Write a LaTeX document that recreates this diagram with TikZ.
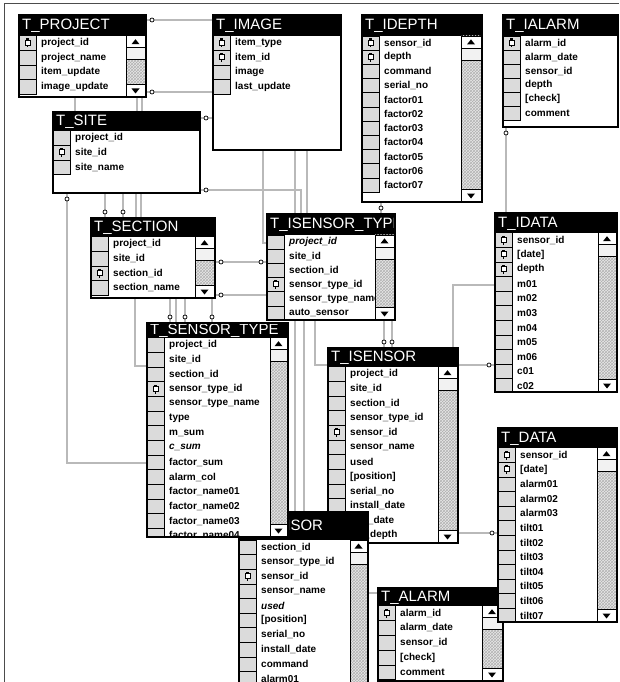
\documentclass[tikz,border=0pt]{standalone}
\usepackage{fontspec}
\setmainfont{Liberation Sans}
\usetikzlibrary{patterns,backgrounds,decorations.markings}
\tikzset{
 tabbox/.style={rectangle, draw=black, line width=2pt, fill=white, inner sep=0pt, outer sep=0pt},
 titletext/.style={text=white, font=\fontsize{15}{16}\selectfont, inner sep=0pt},
 rowtext/.style={font=\fontsize{10}{12}\selectfont\bfseries, inner sep=0pt},
 keycell/.style={draw=black, line width=0.5pt, fill=gray!28},
 conn/.style={draw=black, line width=0.6pt, double=gray!55, double distance=1.2pt},
 os/.style={postaction={decorate, decoration={markings, mark=at position 6pt with {\draw[fill=white, line width=0.7pt, draw=black] (0,0) circle[radius=2pt];}}}},
 oe/.style={postaction={decorate, decoration={markings, mark=at position -6pt with {\draw[fill=white, line width=0.7pt, draw=black] (0,0) circle[radius=2pt];}}}},
}
% #1 name #2 x1 #3 y1 #4 x2 #5 y2 #6 title bottom #7 title #8 scroll x (or empty) #9 rows
\newcommand\dbtable[9]{%
 \node[tabbox, minimum width={(#4-#2)*1pt}, minimum height={(#5-#3)*1pt}, anchor=north west] (#1) at (#2,#3) {};
 \fill[black] (#2,#3) rectangle (#4,#6);
 \begin{scope}
  \clip (#2,#3) rectangle (#4-1,#6);
  \node[titletext, anchor=west] (#1-t) at (#2+3,{(#3+#6)/2+0.5}) {#7};
 \end{scope}
 \begin{scope}
  \clip (#2,#6) rectangle (#4,#5);
  \foreach \kk/\rowtxt [count=\ii] in {#9} {
   \pgfmathsetmacro\ya{#6+(\ii-1)*\pitch}
   \pgfmathsetmacro\yb{\ya+\pitch}
   \pgfmathsetmacro\yc{\ya+\pitch/2}
   \draw[keycell] (#2,\ya) rectangle (#2+17,\yb);
   \node[rowtext, anchor=west] (#1-r\ii) at (#2+22,\yc) {\rowtxt};
   \if k\kk
    \draw[line width=0.8pt, fill=white] (#2+6,\yc-3) rectangle (#2+11,\yc+2);
    \fill (#2+7.6,\yc+2) rectangle (#2+9.4,\yc+4.5);
    \fill (#2+7,\yc-4.5) rectangle (#2+10,\yc-3);
   \fi
  }
 \end{scope}
 \def\sx{#8}\ifx\sx\empty\else
  \fill[gray!18] (#8,#6) rectangle (#4-1,#5-1);
  \fill[pattern=crosshatch, pattern color=gray!60] (#8,#6) rectangle (#4-1,#5-1);
  \draw[line width=0.5pt] (#8,#6) -- (#8,#5);
  \draw[line width=0.5pt, fill=white] (#8,#6) rectangle (#4-1,#6+12);
  \fill ({(#8+#4-1)/2},#6+3.5) -- ++(-4,5) -- ++(8,0) -- cycle;
  \draw[line width=0.5pt, fill=gray!10] (#8,#6+12) rectangle (#4-1,#6+24);
  \draw[line width=0.5pt, fill=white] (#8,#5-13) rectangle (#4-1,#5-1);
  \fill ({(#8+#4-1)/2},#5-3.5) -- ++(-4,-5) -- ++(8,0) -- cycle;
 \fi
 \draw[line width=2pt] (#2,#3) rectangle (#4,#5);
}
\begin{document}
\begin{tikzpicture}[x=1pt,y=-1pt]
\useasboundingbox (0,0) rectangle (619,682);
\clip (0,0) rectangle (619,682);
\draw[black!70, line width=0.8pt] (4,682) -- (4,3) -- (619,3);

\def\pitch{14.6}
\dbtable{tproject}{19}{15}{146}{97}{35.7}{T\_PROJECT}{126}{k/project\_id,n/project\_name,n/item\_update,n/image\_update}
\dbtable{timage}{213}{15}{341}{150}{35.7}{T\_IMAGE}{}{k/item\_type,k/item\_id,n/image,n/last\_update}
\dbtable{tsite}{53}{112}{200}{193}{130.7}{T\_SITE}{}{n/project\_id,k/site\_id,n/site\_name}
\def\pitch{14.2}
\dbtable{tidepth}{362}{15}{482}{202}{35.9}{T\_IDEPTH}{461}{k/sensor\_id,k/depth,n/command,n/serial\_no,n/factor01,n/factor02,n/factor03,n/factor04,n/factor05,n/factor06,n/factor07}
\def\pitch{14}
\dbtable{tialarm}{503}{15}{618}{127}{36}{T\_IALARM}{}{k/alarm\_id,n/alarm\_date,n/sensor\_id,n/depth,n/{[check]},n/comment}
\def\pitch{14.6}
\dbtable{tsection}{91}{218}{215}{298}{236.7}{T\_SECTION}{195}{n/project\_id,n/site\_id,k/section\_id,n/section\_name}
\def\pitch{14.2}
\dbtable{tisensortype}{267}{214}{395}{320}{234.9}{T\_ISENSOR\_TYPE}{375}{n/\textit{project\_id},n/site\_id,n/section\_id,k/sensor\_type\_id,n/sensor\_type\_name,n/auto\_sensor}
\def\pitch{14.64}
\dbtable{tisensor}{328}{348}{458}{543}{366.7}{T\_ISENSOR}{438}{n/project\_id,n/site\_id,n/section\_id,n/sensor\_type\_id,k/sensor\_id,n/sensor\_name,n/used,n/{[position]},n/serial\_no,n/install\_date,n/obs\_date,n/set\_depth}
\def\pitch{14.6}
\dbtable{tsensor}{239}{512}{368}{700}{540}{T\_SENSOR}{350}{n/section\_id,n/sensor\_type\_id,k/sensor\_id,n/sensor\_name,n/\textit{used},n/{[position]},n/serial\_no,n/install\_date,n/command,n/alarm01}
\def\pitch{14.67}
\dbtable{tsensortype}{147}{323}{288}{537}{337.7}{T\_SENSOR\_TYPE}{270}{n/project\_id,n/site\_id,n/section\_id,k/sensor\_type\_id,n/sensor\_type\_name,n/type,n/m\_sum,n/\textit{c\_sum},n/factor\_sum,n/alarm\_col,n/factor\_name01,n/factor\_name02,n/factor\_name03,n/factor\_name04}
\def\pitch{14.6}
\dbtable{tidata}{495}{213}{617}{392}{232.7}{T\_IDATA}{598}{k/sensor\_id,k/{[date]},k/depth,n/m01,n/m02,n/m03,n/m04,n/m05,n/m06,n/c01,n/c02}
\def\pitch{14.8}
\dbtable{talarm}{378}{588}{503}{681}{605.7}{T\_ALARM}{482}{k/alarm\_id,n/alarm\_date,n/sensor\_id,n/{[check]},n/comment}
\def\pitch{14.6}
\dbtable{tdata}{498}{428}{617}{622}{447.7}{T\_DATA}{597}{k/sensor\_id,k/{[date]},n/alarm01,n/alarm02,n/alarm03,n/tilt01,n/tilt02,n/tilt03,n/tilt04,n/tilt05,n/tilt06,n/tilt07}

\begin{scope}[on background layer]
\draw[conn, os] (tproject.east |- 0,20) -- (timage.west |- 0,20);
\draw[conn, os] (tproject.east |- 0,92) -- (timage.west |- 0,92);
\draw[conn, os] (tsite.east |- 0,118) -- (timage.west |- 0,118);
\draw[conn, os] (tsite.east |- 0,190) -| (tisensortype.north -| 301,0);
\draw[conn] (tproject.south -| 75,0) -- (tsite.north -| 75,0);
\draw[conn] (tproject.south -| 137,0) -- (tsite.north -| 137,0);
\draw[conn] (tproject.south -| 142,0) -- (tsite.north -| 142,0);
\draw[conn] (timage.south -| 263,0) |- (tisensortype.west |- 0,243);
\draw[conn] (timage.south -| 295,0) -- (tisensortype.north -| 295,0);
\draw[conn] (timage.south -| 307,0) -- (tisensortype.north -| 307,0);
\draw[conn, os] (tsite.south -| 67,0) |- (tsensortype.west |- 0,463);
\draw[conn, oe] (tsite.south -| 105,0) -- (tsection.north -| 105,0);
\draw[conn, oe] (tsite.south -| 123,0) -- (tsection.north -| 123,0);
\draw[conn] (tsite.south -| 136,0) -- (tsection.north -| 136,0);
\draw[conn] (tsite.south -| 141,0) -- (tsection.north -| 141,0);
\draw[conn] (tsection.south -| 135,0) |- (tsensortype.west |- 0,366);
\draw[conn, oe] (tsection.south -| 170,0) -- (tsensortype.north -| 170,0);
\draw[conn] (tsection.south -| 176,0) -- (tsensortype.north -| 176,0);
\draw[conn, oe] (tsection.south -| 185,0) -- (tsensortype.north -| 185,0);
\draw[conn, oe] (tsection.south -| 212,0) -- (tsensortype.north -| 212,0);
\draw[conn, os, oe] (tsection.east |- 0,262) -- (tisensortype.west |- 0,262);
\draw[conn, os] (tsection.east |- 0,295) -- (tisensortype.west |- 0,295);
\draw[conn, os] (tidepth.south -| 381,0) -- (tisensortype.north -| 381,0);
\draw[conn, os] (tialarm.south -| 506,0) -- (tidata.north -| 506,0);
\draw[conn] (tisensortype.south -| 295,0) -- (tsensor.north -| 295,0);
\draw[conn] (tisensortype.south -| 304,0) -- (tsensor.north -| 304,0);
\draw[conn] (tisensortype.south -| 315,0) |- (tisensor.west |- 0,365);
\draw[conn, oe] (tisensortype.south -| 384,0) -- (tisensor.north -| 384,0);
\draw[conn, oe] (tisensortype.south -| 392,0) -- (tisensor.north -| 392,0);
\draw[conn] (tisensor.north -| 453,0) |- (tidata.west |- 0,285);
\draw[conn, oe] (tisensor.east |- 0,365) -- (tidata.west |- 0,365);
\draw[conn, oe] (tisensor.east |- 0,533) -- (tdata.west |- 0,533);
\draw[conn] (tsensor.east |- 0,593) -- (talarm.west |- 0,593);
\end{scope}
\end{tikzpicture}
\end{document}
